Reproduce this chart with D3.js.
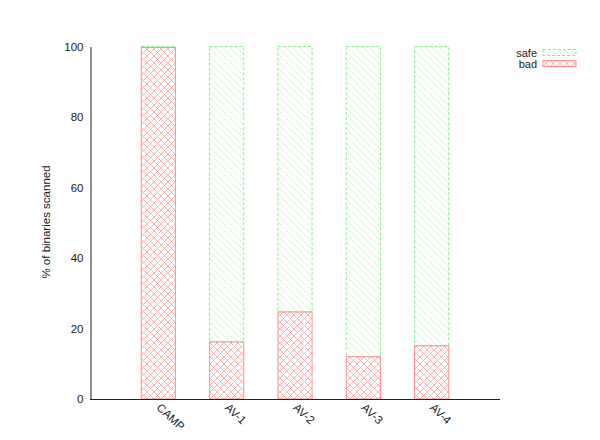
<!DOCTYPE html>
<html>
<head>
<meta charset="utf-8">
<script src="https://cdn.jsdelivr.net/npm/d3@7"></script>
<style>
  body { margin: 0; background: #fff; }
  text { font-family: "Liberation Sans", Arial, sans-serif; font-size: 11px; fill: #222; }
</style>
</head>
<body>
<div id="chart"></div>
<script>
var categories = ['CAMP', 'AV-1', 'AV-2', 'AV-3', 'AV-4'];
var badValues = [99.7, 16.2, 24.7, 12.0, 15.1];
var safeValues = [0.3, 83.8, 75.3, 88.0, 84.9];
var yTicks = [0, 20, 40, 60, 80, 100];

var width = 600, height = 440;

var svg = d3.select('#chart')
  .append('svg')
  .attr('width', width)
  .attr('height', height);

var defs = svg.append('defs');

// red cross hatch
var cross = defs.append('pattern')
  .attr('id', 'cross')
  .attr('patternUnits', 'userSpaceOnUse')
  .attr('width', 7)
  .attr('height', 7);
cross.append('path')
  .attr('d', 'M0,0L7,7M7,0L0,7M-1,6L1,8M6,-1L8,1M-1,1L1,-1M6,8L8,6')
  .attr('stroke', '#ffa8a8')
  .attr('stroke-width', 0.9);

// green single hatch
var diag = defs.append('pattern')
  .attr('id', 'diag')
  .attr('patternUnits', 'userSpaceOnUse')
  .attr('width', 7)
  .attr('height', 7);
diag.append('path')
  .attr('d', 'M0,0L7,7M-1,6L1,8M6,-1L8,1')
  .attr('stroke', '#b8f5b8')
  .attr('stroke-width', 0.9)
  .attr('stroke-dasharray', '2,1');

var x = d3.scalePoint()
  .domain(categories)
  .range([90, 500])
  .padding(1);

var y = d3.scaleLinear()
  .domain([0, 100])
  .range([399, 46.5]);

var barWidth = x.step() / 2;

var rows = categories.map(function (c, i) {
  return { name: c, bad: badValues[i], safe: safeValues[i] };
});

// safe segments (stacked on top of bad)
svg.selectAll('rect.safe')
  .data(rows)
  .enter()
  .append('rect')
  .attr('class', 'safe')
  .attr('x', function (d) { return x(d.name) - barWidth / 2; })
  .attr('y', function (d) { return y(d.bad + d.safe); })
  .attr('width', barWidth)
  .attr('height', function (d) { return y(d.bad) - y(d.bad + d.safe); })
  .attr('fill', 'url(#diag)')
  .attr('stroke', '#88ee88')
  .attr('stroke-width', 1)
  .attr('stroke-dasharray', '3,2');

// bad segments
svg.selectAll('rect.bad')
  .data(rows)
  .enter()
  .append('rect')
  .attr('class', 'bad')
  .attr('x', function (d) { return x(d.name) - barWidth / 2; })
  .attr('y', function (d) { return y(d.bad); })
  .attr('width', barWidth)
  .attr('height', function (d) { return y(0) - y(d.bad); })
  .attr('fill', 'url(#cross)')
  .attr('stroke', '#ff9090')
  .attr('stroke-width', 1);

// axes
var yAxis = svg.append('g')
  .attr('transform', 'translate(90.5,0)')
  .call(d3.axisLeft(y).tickValues(yTicks).tickSize(0).tickPadding(7));
yAxis.select('.domain').attr('stroke', '#222');
yAxis.selectAll('text').style('font-size', '11.5px');

var xAxis = svg.append('g')
  .attr('transform', 'translate(0,399.5)')
  .call(d3.axisBottom(x).tickSize(0).tickPadding(0));
xAxis.select('.domain').attr('stroke', '#222').attr('d', 'M90,0H500');
xAxis.selectAll('text')
  .attr('text-anchor', 'start')
  .attr('dy', null)
  .attr('y', 0)
  .attr('transform', 'translate(-3,9) rotate(43)')
  .style('font-size', '11.5px');

svg.append('text')
  .attr('transform', 'translate(50,222) rotate(-90)')
  .attr('text-anchor', 'middle')
  .style('font-size', '11.5px')
  .text('% of binaries scanned');

// legend
var legend = [
  { label: 'safe', fill: 'url(#diag)', stroke: '#88ee88', dash: '3,2' },
  { label: 'bad', fill: 'url(#cross)', stroke: '#ff9090', dash: null }
];
var lg = svg.selectAll('g.legend')
  .data(legend)
  .enter()
  .append('g')
  .attr('transform', function (d, i) { return 'translate(0,' + (52.5 + i * 11) + ')'; });
lg.append('text')
  .attr('x', 537)
  .attr('y', 4)
  .attr('text-anchor', 'end')
  .style('font-size', '11px')
  .text(function (d) { return d.label; });
lg.append('rect')
  .attr('x', 543)
  .attr('y', -3)
  .attr('width', 33)
  .attr('height', 6)
  .attr('fill', function (d) { return d.fill; })
  .attr('stroke', function (d) { return d.stroke; })
  .attr('stroke-dasharray', function (d) { return d.dash; });
</script>
</body>
</html>
